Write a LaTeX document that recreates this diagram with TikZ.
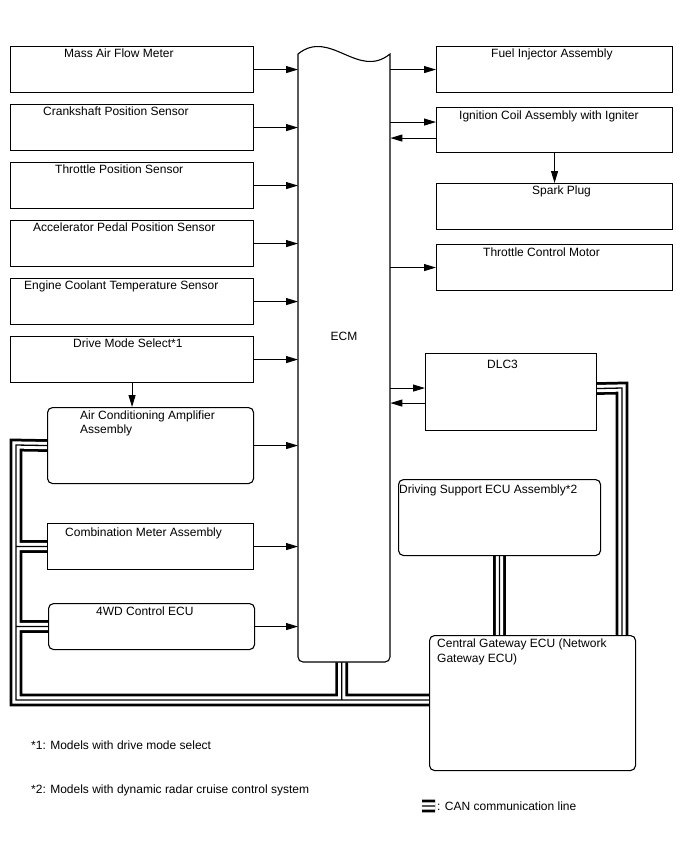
\documentclass[tikz,border=0pt]{standalone}
\usepackage{fontspec}
\setmainfont{Liberation Sans}
\usetikzlibrary{positioning,arrows.meta,backgrounds,calc}

\begin{document}
\begin{tikzpicture}[x=1pt, y=-1pt,
    font=\fontsize{12}{14}\selectfont,
    unitbox/.style={rectangle, draw, line width=1.1pt, inner sep=0pt, anchor=north west},
    roundbox/.style={unitbox, rounded corners=5pt},
    sensor/.style={unitbox, minimum width=243pt, minimum height=46pt},
    actuator/.style={unitbox, minimum width=236pt, minimum height=46pt},
    boxtext/.style={anchor=base west, inner sep=0pt, align=left},
    arr/.style={-{Triangle[length=12pt, width=7pt]}, line width=1pt},
    canline/.style={line width=12.7pt,
      postaction={draw, white, line width=7.2pt},
      postaction={draw, black, line width=1.3pt}},
  ]
  \useasboundingbox (0,0) rectangle (688,852);

  % inputs
  \node[sensor] (maf) at (10,46) {};
  \node[sensor] (ckp) at (10,104) {};
  \node[sensor] (tps) at (10,162) {};
  \node[sensor] (apps) at (10,220) {};
  \node[sensor] (ect) at (10,278) {};
  \node[sensor] (dms) at (10,336) {};
  \node[boxtext] (maftxt) at (64,57) {Mass Air Flow Meter};
  \node[boxtext] (ckptxt) at (43,115) {Crankshaft Position Sensor};
  \node[boxtext] (tpstxt) at (55,173) {Throttle Position Sensor};
  \node[boxtext] (appstxt) at (33,231) {Accelerator Pedal Position Sensor};
  \node[boxtext] (ecttxt) at (24,289) {Engine Coolant Temperature Sensor};
  \node[boxtext] (dmstxt) at (73,347) {Drive Mode Select*1};

  \node[roundbox, minimum width=206pt, minimum height=76pt] (acamp) at (47,407) {};
  \node[unitbox, minimum width=206pt, minimum height=46pt] (cmeter) at (47,523) {};
  \node[roundbox, minimum width=206pt, minimum height=46pt] (fourwd) at (48,603) {};
  \node[boxtext] (acamptxt) at (80,433) {Air Conditioning Amplifier\\Assembly};
  \node[boxtext] (cmetertxt) at (65,536) {Combination Meter Assembly};
  \node[boxtext] (fourwdtxt) at (96,615) {4WD Control ECU};

  % ECM
  \node[draw=none, anchor=north west, minimum width=92pt, minimum height=616pt, inner sep=0pt] (ecm) at (298,46) {};
  \draw[line width=1.1pt] (298,54) .. controls (330,28) and (358,80) .. (390,54)
    -- (390,100) [rounded corners=5pt] -- (390,662) -- (298,662) -- (298,100)
    [sharp corners] -- cycle;
  \node (ecmtxt) at (344,336) {ECM};

  % outputs
  \node[actuator] (fuel) at (436,46) {};
  \node[actuator, minimum height=45pt] (ign) at (436,107) {};
  \node[actuator] (spark) at (436,183) {};
  \node[actuator] (tcm) at (436,244) {};
  \node[boxtext] (fueltxt) at (491,57) {Fuel Injector Assembly};
  \node[boxtext] (igntxt) at (459,119) {Ignition Coil Assembly with Igniter};
  \node[boxtext] (sparktxt) at (532,194) {Spark Plug};
  \node[boxtext] (tcmtxt) at (483,256) {Throttle Control Motor};

  \node[unitbox, minimum width=171pt, minimum height=77pt] (dlc) at (425,353) {};
  \node[roundbox, minimum width=202pt, minimum height=76pt] (dsecu) at (398,479) {};
  \node[roundbox, minimum width=206pt, minimum height=135pt] (cgw) at (429,635) {};
  \node[boxtext] (dlctxt) at (487,368) {DLC3};
  \node[boxtext] (dsecutxt) at (399,493) {Driving Support ECU Assembly*2};
  \node[boxtext, font=\fontsize{12}{14.4}\selectfont] (cgwtxt) at (437,662) {Central Gateway ECU (Network\\Gateway ECU)};

  % signal lines
  \foreach \src in {maf,ckp,tps,apps,ect,dms,acamp,cmeter,fourwd}
    \draw[arr] (\src.east) -- (\src.east -| ecm.west);
  \draw[arr] (dms.south) -- (dms.south |- acamp.north);
  \draw[arr] (ecm.east |- fuel.west) -- (fuel.west);
  \draw[arr] (ecm.east |- ign.west) ++(0,-8) -- ([yshift=8pt]ign.west);
  \draw[arr] ([yshift=-8pt]ign.west) -- ([yshift=-8pt]ign.west -| ecm.east);
  \draw[arr] (ign.south) -- (spark.north);
  \draw[arr] (ecm.east |- tcm.west) -- (tcm.west);
  \draw[arr] ([yshift=4pt]dlc.west -| ecm.east) -- ([yshift=4pt]dlc.west);
  \draw[arr] ([yshift=-11pt]dlc.west) -- ([yshift=-11pt]dlc.west -| ecm.east);

  % notes
  \node[boxtext] (note1) at (31,749) {*1: Models with drive mode select};
  \node[boxtext] (note2) at (31,793) {*2: Models with dynamic radar cruise control system};
  \coordinate (legendl) at (422,806);
  \coordinate (legendr) at (435,806);
  \node[boxtext] (canlegend) at (437,810) {: CAN communication line};

  % CAN bus
  \coordinate (trunktop) at (16,445);
  \coordinate (trunkbot) at (16,700);
  \coordinate (dlcbend) at (622,388);
  \begin{scope}[on background layer]
    \fill[white] (0,0) rectangle (688,852);
    \draw[canline]
      (acamp.west) -- (trunktop) -- (trunkbot) -- (trunkbot -| cgw.west)
      (cmeter.west) -- (cmeter.west -| trunktop)
      (fourwd.west) -- (fourwd.west -| trunktop)
      ([xshift=-2.5pt]ecm.south) -- ([xshift=-2.5pt]ecm.south |- trunkbot)
      (dsecu.south) -- (dsecu.south |- cgw.north)
      ([yshift=3.5pt]dlc.east) -- (dlcbend) -- (dlcbend |- cgw.north)
      (legendl) -- (legendr);
  \end{scope}
\end{tikzpicture}
\end{document}
